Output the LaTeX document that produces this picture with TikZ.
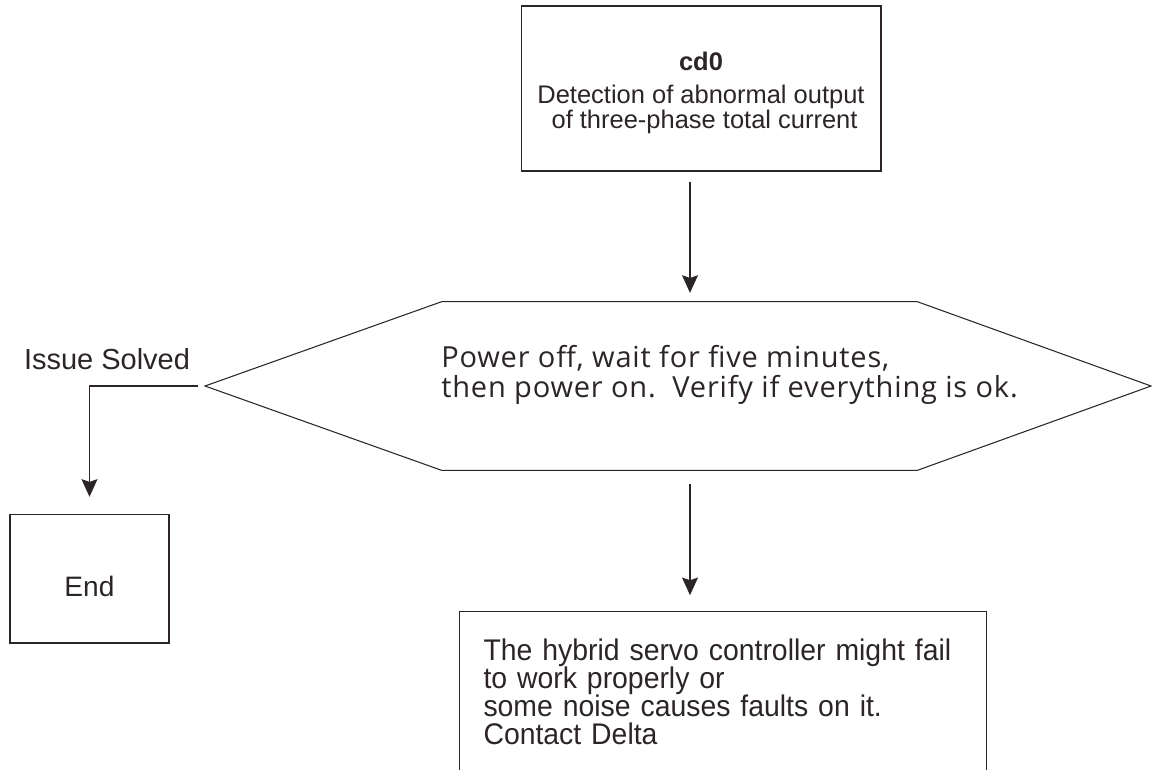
\documentclass[tikz,border=0pt]{standalone}
\usepackage{fontspec}
\setmainfont{Liberation Sans}
\newfontfamily\hexfont[LetterSpace=2.8]{Open Sans}
\newfontfamily\narrowfont[FakeStretch=0.95]{Liberation Sans}
\usetikzlibrary{arrows.meta,positioning}
\definecolor{ink}{HTML}{2B2526}

\begin{document}
\begin{tikzpicture}[x=0.02cm,y=-0.02cm,
    font=\fontsize{14.5}{13.8}\selectfont,text=ink,
    box/.style={draw=ink,line width=0.6pt,align=center,inner sep=0pt},
    arrow/.style={-{Stealth[length=10pt,width=9pt,inset=1.5pt]},line width=1.1pt,draw=ink}
  ]
  \clip (0,0) rectangle (1152,769);
  \coordinate (flow) at (690,0);
  \node[box,minimum width=7.2cm,minimum height=3.3cm] (fault) at (701,88.5) {};
  \node[align=center,inner sep=0pt] (faulttext) at (701,93)
    {\textbf{cd0}\\[5pt]Detection of abnormal output\\\ of three-phase total current};
  \node[minimum width=9.5cm,minimum height=3.36cm,inner sep=0pt] (check) at (679.5,386) {};
  \coordinate (tipL) at (205,386);
  \coordinate (tipR) at (1151,386);
  \draw[ink,line width=0.6pt] (check.north west) -- (check.north east) -- (tipR)
    -- (check.south east) -- (check.south west) -- (tipL) -- cycle;
  \node[anchor=west,align=left,inner sep=0pt,font=\hexfont\fontsize{16.5}{17}\selectfont] (checktext) at (441,375)
    {Power off, wait for five minutes,\\then power on.\ \ Verify if everything is ok.};
  \node[box,minimum width=3.18cm,minimum height=2.58cm,text height=21pt,
    font=\fontsize{16}{16}\selectfont] (done) at (89.5,578.5) {End};
  \node[box,anchor=north west,minimum width=10.54cm,minimum height=3.2cm,
    text width=9.58cm,align=left,font=\narrowfont\fontsize{17}{15.9}\selectfont] (contact) at (459,611)
    {The hybrid servo controller might fail\\to work properly or\\some noise causes faults on it.\\Contact Delta};
  \draw[arrow,shorten <=6.2pt,shorten >=5pt] (fault.south -| flow) -- (check.north -| flow);
  \draw[arrow,shorten <=8pt,shorten >=9pt] (check.south -| flow) -- (contact.north -| flow);
  \draw[arrow,shorten <=4pt,shorten >=9.5pt] (tipL) -| (done.north);
  \node[font=\fontsize{16.5}{16.5}\selectfont] (solved) at (107,359) {Issue Solved};
\end{tikzpicture}
\end{document}
